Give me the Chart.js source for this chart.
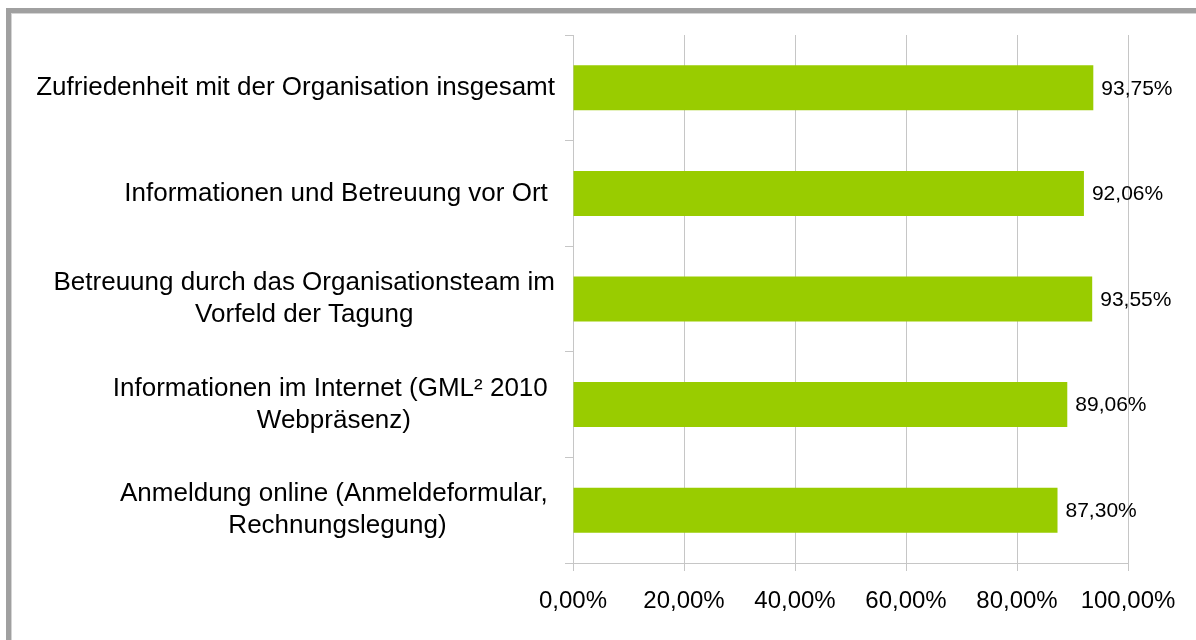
<!DOCTYPE html>
<html>
<head>
<meta charset="utf-8">
<script src="https://cdn.jsdelivr.net/npm/chart.js@4/dist/chart.umd.min.js"></script>
<style>
  html, body { margin: 0; padding: 0; background: #fff; overflow: hidden; }
  #frame {
    position: absolute; left: 6px; top: 8px; width: 1300px; height: 700px;
    border: 5px solid #a0a0a0; box-shadow: inset 1px 1px 0 #d4d4d4; background: #fff;
  }
  #wrap { position: absolute; left: 0; top: 0; width: 1196px; height: 640px; }
</style>
</head>
<body>
<div id="frame"></div>
<div id="wrap"><canvas id="chart"></canvas></div>
<script>
  // categories, top to bottom (each entry = lines as wrapped in the original)
  const categories = [
    ["Zufriedenheit mit der Organisation insgesamt"],
    ["Informationen und Betreuung vor Ort "],
    ["Betreuung durch das Organisationsteam im", "Vorfeld der Tagung"],
    ["Informationen im Internet (GML² 2010 ", "Webpräsenz)"],
    ["Anmeldung online (Anmeldeformular, ", "Rechnungslegung)"]
  ];
  const values = [93.75, 92.06, 93.55, 89.06, 87.30];
  const xTicks = [0, 20, 40, 60, 80, 100];

  const FONT = '"Liberation Sans", Arial, sans-serif';
  const GRID = "#c6c6c6";

  function pct(v) { return v.toFixed(2).replace(".", ",") + "%"; }

  // category labels: block right-aligned next to the axis, lines centred inside
  const catLabels = {
    id: "catLabels",
    afterDraw(chart) {
      const ctx = chart.ctx;
      const y = chart.scales.y;
      const right = y.right - 18;
      ctx.save();
      ctx.font = "26px " + FONT;
      ctx.fillStyle = "#000";
      ctx.textAlign = "center";
      ctx.textBaseline = "middle";
      categories.forEach((lines, i) => {
        const w = Math.max(...lines.map((l) => ctx.measureText(l).width));
        const cx = right - w / 2;
        const cy = y.getPixelForValue(i);
        const lh = 32;
        lines.forEach((l, j) => {
          ctx.fillText(l, cx, cy + (j - (lines.length - 1) / 2) * lh);
        });
      });
      ctx.restore();
    }
  };

  const valueLabels = {
    id: "valueLabels",
    afterDatasetsDraw(chart) {
      const ctx = chart.ctx;
      const meta = chart.getDatasetMeta(0);
      ctx.save();
      ctx.font = "21px " + FONT;
      ctx.fillStyle = "#000";
      ctx.textAlign = "left";
      ctx.textBaseline = "middle";
      meta.data.forEach((bar, i) => {
        ctx.fillText(pct(values[i]), bar.x + 8, bar.y + 1);
      });
      ctx.restore();
    }
  };

  new Chart(document.getElementById("chart").getContext("2d"), {
    type: "bar",
    data: {
      labels: categories,
      datasets: [{
        data: values,
        backgroundColor: "#99cc00",
        barPercentage: 0.426,
        categoryPercentage: 1
      }]
    },
    options: {
      indexAxis: "y",
      responsive: true,
      maintainAspectRatio: false,
      animation: false,
      layout: { padding: { left: 0, top: 35, right: 68, bottom: 0 } },
      plugins: { legend: { display: false }, tooltip: { enabled: false } },
      scales: {
        x: {
          min: 0, max: 100,
          afterBuildTicks: (s) => { s.ticks = xTicks.map((v) => ({ value: v })); },
          afterFit: (s) => { s.height = 77; },
          ticks: { callback: (v) => pct(v), color: "#000", font: { family: FONT, size: 24 }, padding: 16, maxRotation: 0 },
          grid: { color: GRID, lineWidth: 1, tickLength: 8 },
          border: { color: GRID, width: 1 }
        },
        y: {
          afterFit: (s) => { s.width = 573; },
          ticks: { display: false },
          grid: { color: GRID, drawOnChartArea: false, tickLength: 8, offset: true },
          border: { color: GRID, width: 1 }
        }
      }
    },
    plugins: [catLabels, valueLabels]
  });
</script>
</body>
</html>
